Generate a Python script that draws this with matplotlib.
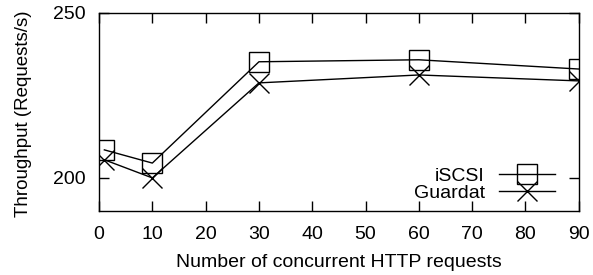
import matplotlib
matplotlib.use('Agg')
import matplotlib.pyplot as plt

plt.rcParams['font.family'] = ['Liberation Sans', 'DejaVu Sans']
plt.rcParams['font.size'] = 14

# Data points
x = [1, 10, 30, 60, 90]
iscsi = [208.5, 204.5, 235.2, 235.8, 233.0]
guardat = [205.5, 200.0, 228.8, 231.2, 229.4]

fig = plt.figure(figsize=(5.93, 2.75), dpi=100)
ax = fig.add_axes([0.167, 0.233, 0.809, 0.72])
ax.plot(x, iscsi, color='black', lw=1, marker='s', ms=14, mfc='none', mec='black', mew=1, label='iSCSI')
ax.plot(x, guardat, color='black', lw=1, marker='x', ms=14, mew=1, label='Guardat')

ax.set_xlim(0, 90)
ax.set_ylim(190, 250)
ax.set_xticks(range(0, 91, 10))
ax.set_yticks([200, 250])
ax.tick_params(direction='in', top=True, right=True, length=7, width=1)
ax.tick_params(axis='x', pad=11)
ax.tick_params(axis='y', pad=9.5)
for s in ax.spines.values():
    s.set_linewidth(1)

ax.set_xlabel('Number of concurrent HTTP requests', labelpad=8)
ax.set_ylabel('Throughput (Requests/s)', fontsize=13.5)
ax.yaxis.set_label_coords(-0.14, 0.49)

ax.legend(loc='lower right', frameon=False, markerfirst=False, handlelength=2.9,
          handletextpad=0.72, labelspacing=0.0, borderaxespad=0.0, bbox_to_anchor=(0.967, 0.005))

plt.savefig('out.png', dpi=100)
plt.close()
